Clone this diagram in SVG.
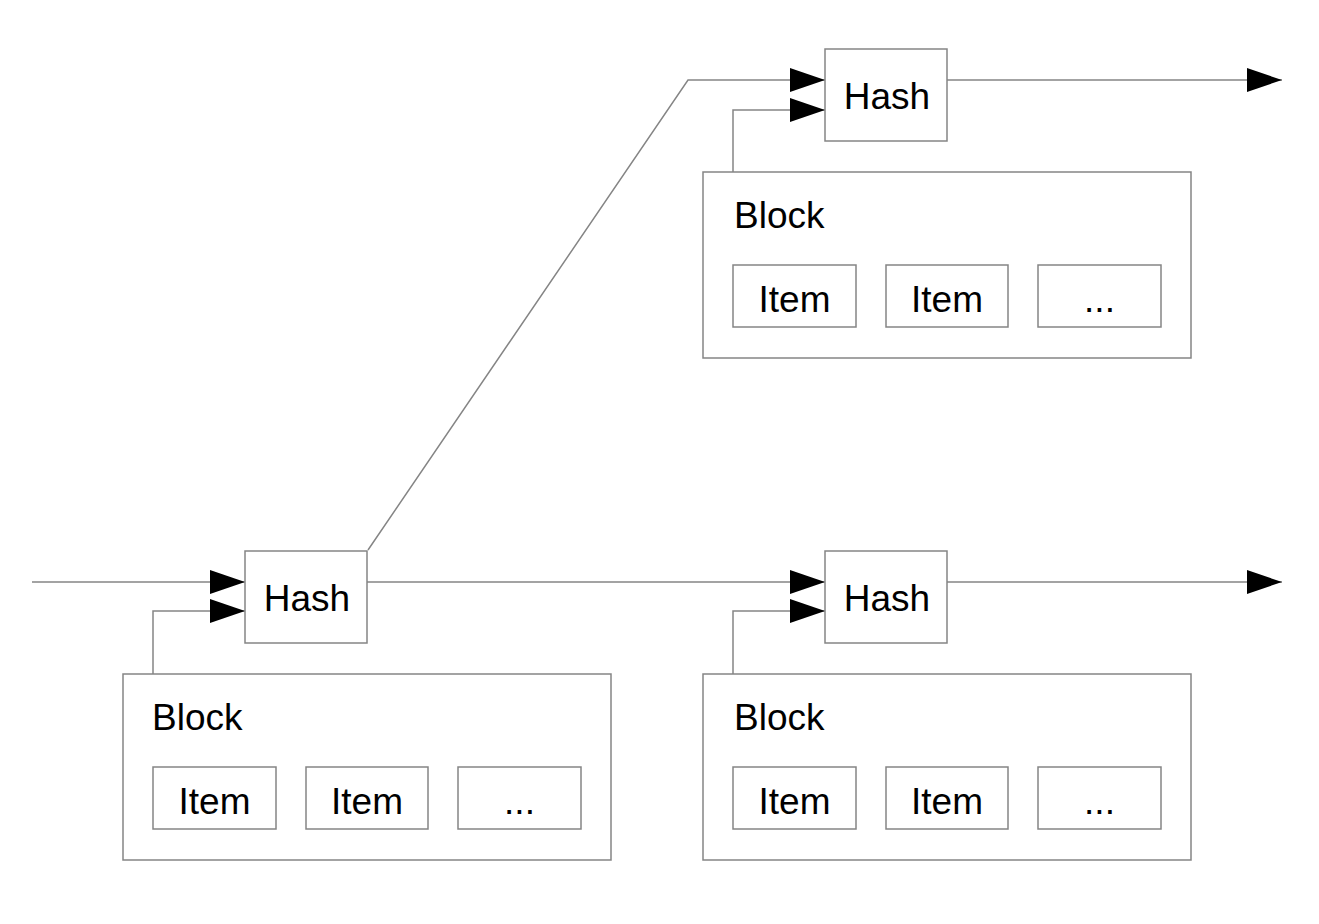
<svg xmlns="http://www.w3.org/2000/svg" width="1319" height="924" viewBox="0 0 1319 924">
<style>
.box{fill:#fff;stroke:#858585;stroke-width:1.5}
.ln{fill:none;stroke:#858585;stroke-width:1.5}
.t{font-family:"Liberation Sans",Arial,sans-serif;font-size:37px;fill:#000}
.c{text-anchor:middle}
</style>
<defs>
<marker id="arr" markerUnits="userSpaceOnUse" markerWidth="36" markerHeight="26" refX="35" refY="12" orient="auto" viewBox="0 0 36 26">
<path d="M0,0 L35,12 L0,24 z" fill="#000"/>
</marker>
</defs>
<rect width="1319" height="924" fill="#fff"/>
<g id="connectors">
<path class="ln" d="M32,582 H245" marker-end="url(#arr)"/>
<path class="ln" d="M153,674 V611 H245" marker-end="url(#arr)"/>
<path class="ln" d="M367,582 H825" marker-end="url(#arr)"/>
<path class="ln" d="M368,550 L688,80 H825" marker-end="url(#arr)"/>
<path class="ln" d="M733,674 V611 H825" marker-end="url(#arr)"/>
<path class="ln" d="M733,172 V110 H825" marker-end="url(#arr)"/>
<path class="ln" d="M947,80 H1282" marker-end="url(#arr)"/>
<path class="ln" d="M947,582 H1282" marker-end="url(#arr)"/>
</g>
<g id="hash-top">
<rect class="box" x="825" y="49" width="122" height="92"/>
<text class="t c" x="887" y="109">Hash</text>
</g>
<g id="hash-bl">
<rect class="box" x="245" y="551" width="122" height="92"/>
<text class="t c" x="307" y="611">Hash</text>
</g>
<g id="hash-br">
<rect class="box" x="825" y="551" width="122" height="92"/>
<text class="t c" x="887" y="611">Hash</text>
</g>
<g id="block-top">
<rect class="box" x="703" y="172" width="488" height="186"/>
<text class="t" x="734" y="228">Block</text>
<rect class="box" x="733" y="265" width="123" height="62"/>
<text class="t c" x="794.5" y="312">Item</text>
<rect class="box" x="886" y="265" width="122" height="62"/>
<text class="t c" x="947" y="312">Item</text>
<rect class="box" x="1038" y="265" width="123" height="62"/>
<text class="t c" x="1099.5" y="312">...</text>
</g>
<g id="block-bl">
<rect class="box" x="123" y="674" width="488" height="186"/>
<text class="t" x="152" y="730">Block</text>
<rect class="box" x="153" y="767" width="123" height="62"/>
<text class="t c" x="214.5" y="814">Item</text>
<rect class="box" x="306" y="767" width="122" height="62"/>
<text class="t c" x="367" y="814">Item</text>
<rect class="box" x="458" y="767" width="123" height="62"/>
<text class="t c" x="519.5" y="814">...</text>
</g>
<g id="block-br">
<rect class="box" x="703" y="674" width="488" height="186"/>
<text class="t" x="734" y="730">Block</text>
<rect class="box" x="733" y="767" width="123" height="62"/>
<text class="t c" x="794.5" y="814">Item</text>
<rect class="box" x="886" y="767" width="122" height="62"/>
<text class="t c" x="947" y="814">Item</text>
<rect class="box" x="1038" y="767" width="123" height="62"/>
<text class="t c" x="1099.5" y="814">...</text>
</g>
</svg>
